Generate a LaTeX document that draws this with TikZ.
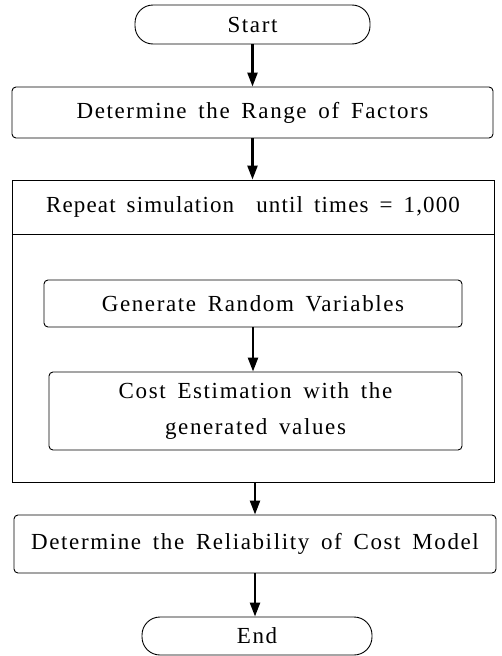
\documentclass[tikz,border=0pt]{standalone}
\usepackage{fontspec}
\setmainfont{Liberation Serif}[LetterSpace=7,WordSpace={1.6}]
\usetikzlibrary{arrows.meta}
\begin{document}
\begin{tikzpicture}[x=1pt,y=-1pt,
  box/.style={draw,line width=0.9pt,rounded corners=4pt,inner sep=0pt},
  pill/.style={draw,line width=0.9pt,rounded corners=18pt,inner sep=0pt},
  lbl/.style={font=\fontsize{23}{36}\selectfont,align=center},
  arr/.style={line width=2.4pt,-{Triangle[length=14pt,width=10pt]}}]
\useasboundingbox (0,0) rectangle (501,656);
\node[pill,lbl,minimum width=235pt,minimum height=39pt] (start) at (252.5,24.5) {Start};
\node[box,lbl,minimum width=481pt,minimum height=51pt] (f1) at (252.5,112.5) {Determine the Range of Factors};
\node[draw,line width=0.9pt,minimum width=482pt,minimum height=302pt,inner sep=0pt] (loop) at (253,331) {};
\node[lbl,anchor=north,minimum width=482pt,minimum height=54pt,inner sep=0pt,font=\fontsize{23}{36}\selectfont\addfontfeature{LetterSpace=5}] (hdr) at (loop.north) {Repeat simulation~~until times = 1,000};
\draw[line width=0.9pt] (hdr.south west) -- (hdr.south east);
\node[box,lbl,minimum width=418pt,minimum height=47pt] (g) at (253,303.5) {Generate Random Variables};
\node[box,lbl,minimum width=413pt,minimum height=78pt] (c) at (255.5,411) {Cost Estimation with the\\generated values};
\node[box,lbl,minimum width=482pt,minimum height=58pt] (r) at (255,544) {Determine the Reliability of Cost Model};
\node[pill,lbl,minimum width=230pt,minimum height=38pt] (e) at (257,636) {End};
\draw[arr] (start.south) -- (start.south |- f1.north);
\draw[arr] (f1.south) -- (f1.south |- loop.north);
\draw[arr] (g.south) -- (g.south |- c.north);
\draw[arr] (loop.south -| r.north) -- (r.north);
\draw[arr] (r.south) -- (r.south |- e.north);
\end{tikzpicture}
\end{document}
